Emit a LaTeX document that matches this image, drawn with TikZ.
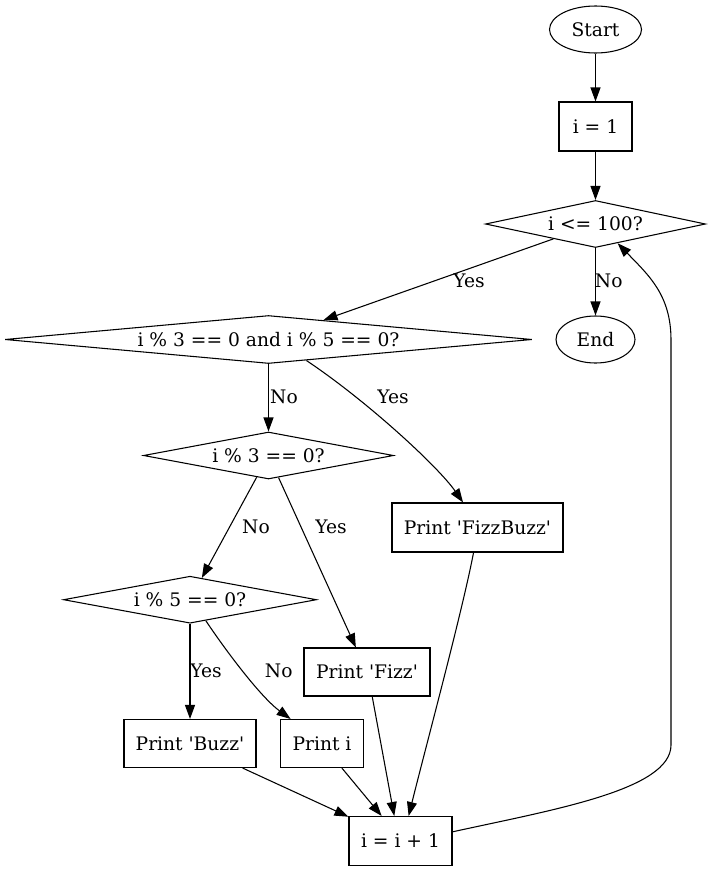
\documentclass[tikz,border=0pt]{standalone}
\usepackage{fontspec}
\setmainfont{DejaVu Serif}
\usetikzlibrary{shapes.geometric,arrows.meta}
\newcommand{\sq}{\textquotesingle}
\begin{document}
\begin{tikzpicture}[x=0.75pt,y=-0.75pt,
  txt/.style={font=\fontsize{14pt}{16pt}\selectfont},
  base/.style={txt, draw=black, line width=0.8pt, inner sep=0pt},
  dims/.style 2 args={minimum width=#1*0.75pt, minimum height=#2*0.75pt},
  term/.style={base, ellipse},
  proc/.style={base, rectangle},
  dec/.style={base, diamond},
  arr/.style={-{Triangle[length=10.5pt,width=7.5pt]}, line width=0.8pt},
  lab/.style={txt, inner sep=1pt}
]
\useasboundingbox (0,0) rectangle (710,871);

% nodes
\node[term, dims={92}{47}] (start) at (595.5,29.5) {Start};
\node[proc, dims={73}{49}] (init) at (595.5,126.5) {i = 1};
\node[dec, dims={220}{47}, aspect=4.68] (cond) at (595.5,224) {i <= 100?};
\node[term, dims={79}{47}] (end) at (595.5,339.5) {End};
\node[dec, dims={527}{48}, aspect=11] (big) at (268.5,339.5) {i \% 3 == 0 and i \% 5 == 0?};
\node[dec, dims={250}{47}, aspect=5.3] (d3) at (268.5,455.5) {i \% 3 == 0?};
\node[proc, dims={171}{49}] (fb) at (477.5,527.5) {Print \sq FizzBuzz\sq};
\node[dec, dims={253}{47}, aspect=5.38] (d5) at (190,599.7) {i \% 5 == 0?};
\node[proc, dims={126}{48}] (fizz) at (367,672) {Print \sq Fizz\sq};
\node[proc, dims={132}{48}] (buzz) at (190,743.5) {Print \sq Buzz\sq};
\node[proc, dims={83}{48}] (pi) at (322,743.5) {Print i};
\node[proc, dims={103}{49}] (inc) at (400.5,841) {i = i + 1};

\coordinate (rt1) at (671,745);
\coordinate (rt2) at (671,340);

% edges
\draw[arr] (start) -- (init);
\draw[arr] (init) -- (cond);
\draw[arr] (cond) -- (big);
\draw[arr] (cond) -- (end);
\draw[arr] (big) -- (d3);
\draw[arr] (big.-29.6) .. controls +(60,40) and +(-25,-36) .. (fb.120.6);
\draw[arr] (d3) -- (d5);
\draw[arr] (d3) -- (fizz);
\draw[arr] (d5) -- (buzz);
\draw[arr] (d5.-53) .. controls +(20,30) and +(-30,-22) .. (pi.142);
\draw[arr] (fizz.-78) -- (inc.104);
\draw[arr] (fb.-99.7) .. controls +(-11,58) and +(16.5,-66.7) .. (inc.72.2);
\draw[arr] (buzz.-25.6) -- (inc.155);
\draw[arr] (pi.-51.5) -- (inc.127.7);
\draw[arr] (inc.10) .. controls +(100,-22) and +(0,45) .. (rt1) -- (rt2)
  .. controls +(0,-45) and +(31,32) .. (cond.-41.5);

% labels
\node[lab] (l1) at (469,281) {Yes};
\node[lab] (l2) at (608.7,281) {No};
\node[lab] (l3) at (284,396.5) {No};
\node[lab] (l4) at (393,396.5) {Yes};
\node[lab] (l5) at (256,527) {No};
\node[lab] (l6) at (331,527) {Yes};
\node[lab] (l7) at (206,671) {Yes};
\node[lab] (l8) at (278.7,671) {No};
\end{tikzpicture}
\end{document}
